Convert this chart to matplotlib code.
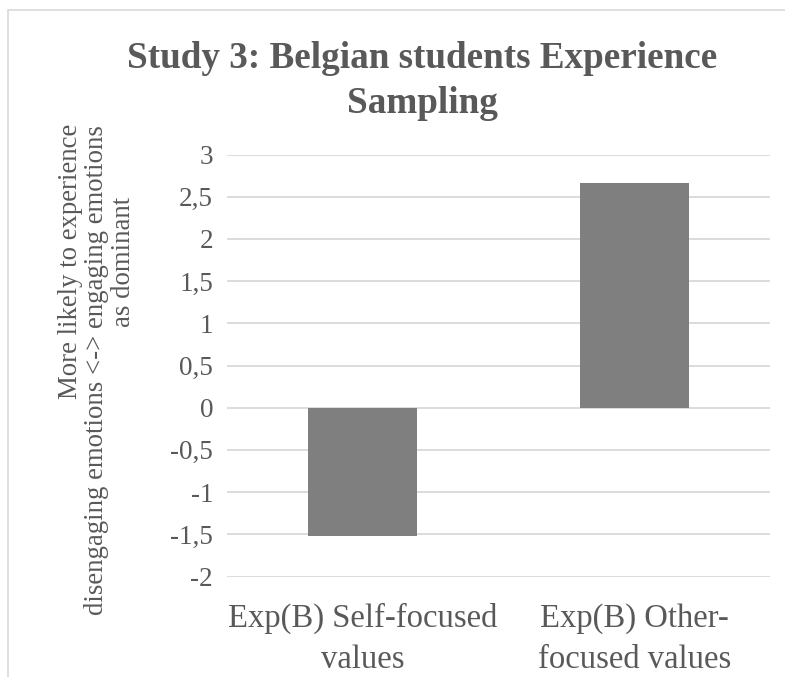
import matplotlib
matplotlib.use("Agg")
import matplotlib.pyplot as plt
from matplotlib.patches import Rectangle

categories = ["Exp(B) Self-focused\nvalues", "Exp(B) Other-\nfocused values"]
values = [-1.52, 2.66]
yticks = [-2, -1.5, -1, -0.5, 0, 0.5, 1, 1.5, 2, 2.5, 3]
ytick_labels = ["-2", "-1,5", "-1", "-0,5", "0", "0,5", "1", "1,5", "2", "2,5", "3"]

title = "Study 3: Belgian students Experience\nSampling"
ylabel_lines = ["More likely to experience",
                "disengaging emotions <-> engaging emotions",
                "as dominant"]

text_color = "#595959"
grid_color = "#d9d9d9"
bar_color = "#7f7f7f"
serif = ["Liberation Serif", "DejaVu Serif"]

W, H = 785, 677
fig = plt.figure(figsize=(W / 100, H / 100), dpi=100)

# Chart-area frame
fig.patches.append(Rectangle((8 / W, -0.1), 1.2, 1 - 10 / H + 0.1,
                             transform=fig.transFigure, fill=False,
                             edgecolor=grid_color, linewidth=1.2))

ax = fig.add_axes([227 / W, 1 - 576.5 / H, 543 / W, (576.5 - 154.5) / H])
x = range(len(categories))
ax.bar(x, values, width=0.4, color=bar_color, zorder=3)

ax.set_xlim(-0.5, len(categories) - 0.5)
ax.set_ylim(-2, 3)
ax.set_yticks(yticks)
ax.set_yticklabels(ytick_labels, family=serif, fontsize=19.5, color=text_color)
ax.set_xticks(list(x))
ax.set_xticklabels(categories, family=serif, fontsize=23.5, color=text_color,
                   linespacing=1.45)
ax.tick_params(axis="both", length=0)
ax.tick_params(axis="y", pad=10)
ax.tick_params(axis="x", pad=19)
ax.yaxis.grid(True, color=grid_color, linewidth=1.3, zorder=0)
ax.set_axisbelow(True)
for s in ax.spines.values():
    s.set_visible(False)

# Rotated axis title, one text per line
label_kw = dict(rotation=90, ha="center", family=serif, fontsize=19.3,
                color=text_color)
fig.text(71 / W, 1 - 124 / H, ylabel_lines[0], va="top", **label_kw)
fig.text(97 / W, 1 - 370 / H, ylabel_lines[1], va="center", **label_kw)
fig.text(123 / W, 1 - 262 / H, ylabel_lines[2], va="center", **label_kw)

fig.text(422 / W, 1 - 81 / H, title, ha="center", va="center",
         family=serif, fontsize=26.7, fontweight="bold", color=text_color,
         linespacing=1.36)

fig.savefig("out.png", dpi=100, facecolor="white")
